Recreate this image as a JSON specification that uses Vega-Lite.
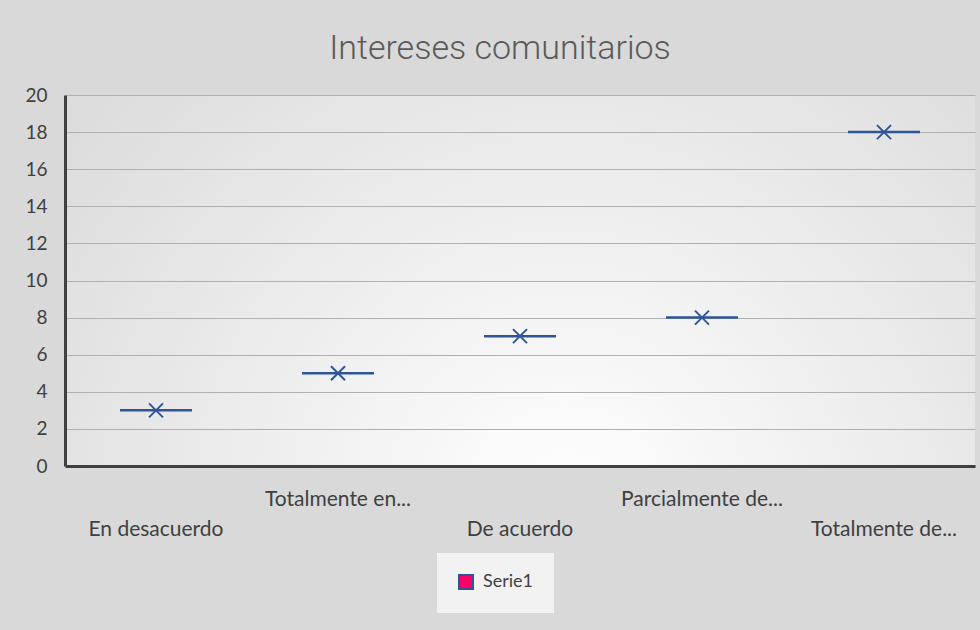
{
  "$schema": "https://vega.github.io/schema/vega-lite/v6.json",
  "width": 910,
  "height": 371,
  "autosize": {"type": "none"},
  "padding": {"left": 65, "top": 95, "right": 5, "bottom": 164},
  "background": "#d9d9d9",
  "title": {
    "text": "Intereses comunitarios",
    "fontSize": 34,
    "font": "Roboto",
    "fontWeight": 300,
    "color": "#595959",
    "anchor": "middle",
    "frame": "group",
    "dx": -20,
    "offset": 20
  },
  "data": {
    "values": [
      {"categoria": "En desacuerdo", "valor": 3, "serie": "Serie1"},
      {"categoria": "Totalmente en desacuerdo", "valor": 5, "serie": "Serie1"},
      {"categoria": "De acuerdo", "valor": 7, "serie": "Serie1"},
      {"categoria": "Parcialmente de acuerdo", "valor": 8, "serie": "Serie1"},
      {"categoria": "Totalmente de acuerdo", "valor": 18, "serie": "Serie1"}
    ]
  },
  "encoding": {
    "x": {
      "field": "categoria",
      "type": "nominal",
      "sort": null,
      "scale": {"paddingInner": 0, "paddingOuter": 0},
      "axis": {
        "title": null,
        "labelAngle": 0,
        "ticks": false,
        "grid": false,
        "domainColor": "#404040",
        "domainWidth": 3,
        "labelFont": "Lato",
        "labelFontSize": 21,
        "labelColor": "#404040",
        "labelPadding": 22,
        "labelBaseline": "top",
        "labelLineHeight": 30,
        "labelLimit": 400,
        "labelExpr": "indexof(['En desacuerdo','De acuerdo','Totalmente de acuerdo'], datum.value) >= 0 ? ['', (length(split(datum.label,' '))>2 ? join(slice(split(datum.label,' '),0,2),' ')+'...' : datum.label)] : (length(split(datum.label,' '))>2 ? join(slice(split(datum.label,' '),0,2),' ')+'...' : datum.label)"
      }
    },
    "y": {
      "field": "valor",
      "type": "quantitative",
      "scale": {"domain": [0, 20], "nice": false},
      "axis": {
        "title": null,
        "values": [0, 2, 4, 6, 8, 10, 12, 14, 16, 18, 20],
        "ticks": false,
        "grid": true,
        "gridColor": "#b0b0b0",
        "gridWidth": 1.2,
        "domainColor": "#404040",
        "domainWidth": 3,
        "labelFont": "Lato",
        "labelFontSize": 19,
        "labelColor": "#404040",
        "labelPadding": 18
      }
    }
  },
  "layer": [
    {
      "mark": {"type": "tick", "color": "#2f5597", "size": 72, "thickness": 2.5, "opacity": 1}
    },
    {
      "mark": {
        "type": "point",
        "shape": "M-1,-1L1,1M-1,1L1,-1",
        "size": 196,
        "stroke": "#2f5597",
        "strokeWidth": 2,
        "opacity": 1
      },
      "encoding": {
        "fill": {
          "field": "serie",
          "type": "nominal",
          "scale": {"range": ["#ff0066"]},
          "legend": {
            "title": null,
            "orient": "none",
            "legendX": 372,
            "legendY": 458,
            "symbolType": "square",
            "symbolSize": 196,
            "symbolFillColor": "#ff0066",
            "symbolStrokeColor": "#2f5597",
            "symbolStrokeWidth": 2,
            "symbolOpacity": 1,
            "labelFont": "Lato",
            "labelFontSize": 18,
            "labelColor": "#404040",
            "labelOffset": 8,
            "fillColor": "#f2f2f2",
            "padding": 20
          }
        }
      }
    }
  ],
  "config": {
    "view": {
      "stroke": null,
      "fill": {
        "gradient": "radial",
        "x1": 0.55, "y1": 0.75, "x2": 0.55, "y2": 0.75,
        "r1": 0, "r2": 0.85,
        "stops": [
          {"offset": 0, "color": "#ffffff"},
          {"offset": 1, "color": "#d4d4d4"}
        ]
      }
    }
  }
}
